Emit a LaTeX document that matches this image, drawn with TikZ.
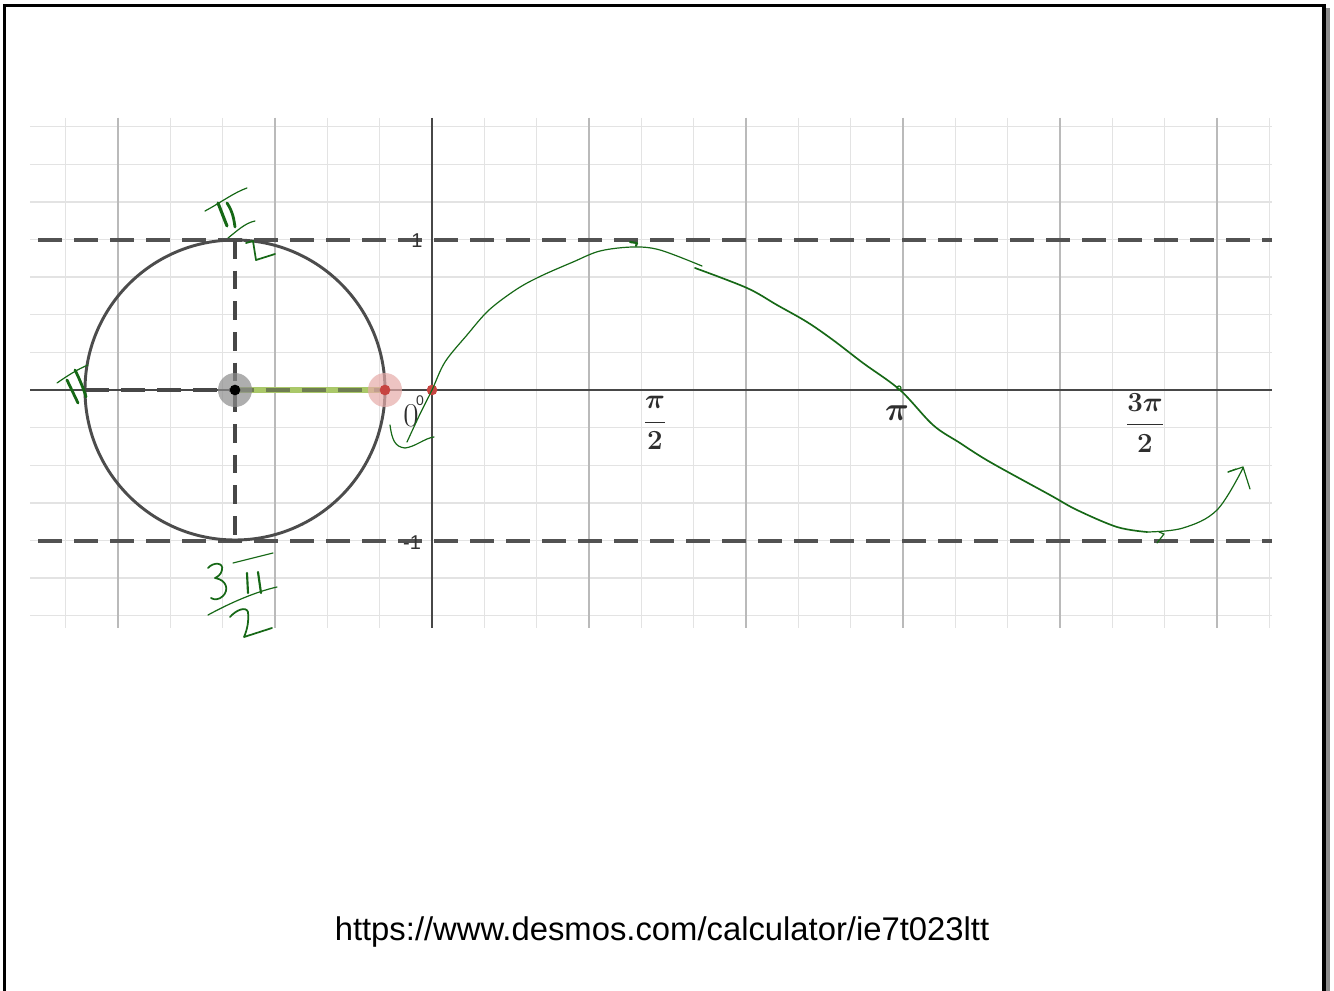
\documentclass[tikz,border=0pt]{standalone}
\usepackage{fontspec}
\usepackage{amsmath}
\newfontfamily\arial{Liberation Sans}
\definecolor{hgreen}{RGB}{22,104,22}
\definecolor{dred}{RGB}{199,68,64}
\definecolor{segg}{RGB}{170,200,105}
\begin{document}
\begin{tikzpicture}[x=0.75pt,y=-0.75pt,
  minor/.style={draw=black!11, line width=1.1pt},
  major/.style={draw=black!27, line width=1.1pt},
  axisline/.style={draw=black!72, line width=1.5pt},
  guide/.style={draw=black!68, line width=3pt, dash pattern=on 18pt off 9pt},
  vguide/.style={draw=black!72, line width=2.5pt, dash pattern=on 14pt off 9pt},
  hand/.style={draw=hgreen, line width=0.9pt, line cap=round, line join=round},
  handb/.style={draw=hgreen, line width=1.6pt, line cap=round, line join=round},
  tick/.style={text=black!80, inner sep=0pt},
  mathlab/.style={text=black!82, inner sep=0pt},
  urltext/.style={inner sep=0pt}]
\useasboundingbox (0,0) rectangle (1334,991);
\fill[white] (0,0) rectangle (1334,991);
% frame
\fill[black!45] (1325,8) rectangle (1330,991);
\draw[line width=2.3pt] (4.5,995) -- (4.5,5.5) -- (1324,5.5) -- (1324,995);
% grid
\foreach \i in {-7,...,16}{\draw[minor] ({432+\i*52.333},118) -- ({432+\i*52.333},628);}
\foreach \j in {-6,...,7}{\draw[minor] (30,{390-\j*37.625}) -- (1272,{390-\j*37.625});}
\foreach \i in {-6,-3,3,6,9,12,15}{\draw[major] ({432+\i*52.333},118) -- ({432+\i*52.333},628);}
% axes
\draw[axisline] (30,390) -- (1272,390);
\draw[axisline] (432,118) -- (432,628);
% dashed guides
\draw[guide] (38,240) -- (1272,240);
\draw[guide] (38,541) -- (1272,541);
\draw[vguide] (235,240) -- (235,541);
% circle
\node[circle, draw=black!70, line width=2.2pt, minimum size=225pt, inner sep=0pt] (circ) at (235,390) {};
% radius segment
\draw[segg, line width=5pt] (235,390) -- (385,390);
\draw[guide, draw=black!72, line width=2.6pt] (85,390) -- (235,390);
\draw[guide, draw=black!75, opacity=0.55, line width=2.5pt, dash phase=4pt] (235,390) -- (385,390);
% points
\fill[black!45, opacity=0.7] (235,390) circle[radius=17];
\node[circle, fill=black, inner sep=0pt, minimum size=8pt] (ctr) at (235,390) {};
\fill[dred!45, opacity=0.7] (385,390) circle[radius=17];
\node[circle, fill=dred, inner sep=0pt, minimum size=8pt] (pt) at (385,390) {};
\node[circle, fill=dred, inner sep=0pt, minimum size=8pt] (org) at (432,390) {};
% axis labels
\node[tick, font=\arial\fontsize{15}{18}\selectfont] (l1) at (417,241) {1};
\node[tick, font=\arial\fontsize{15}{18}\selectfont] (lm1) at (412,543) {-1};
\node[tick, font=\arial\fontsize{10.5}{12}\selectfont] (l0) at (420,401) {0};
\node[mathlab, font=\fontsize{25}{30}\selectfont] (big0) at (411,416) {0};
\node[mathlab, font=\fontsize{21}{25}\selectfont\boldmath] (lhalfpi) at (655,423) {$\dfrac{\pi}{2}$};
\node[mathlab, font=\fontsize{27}{32}\selectfont\boldmath] (lpi) at (897,413) {$\pi$};
\node[mathlab, font=\fontsize{21}{25}\selectfont\boldmath] (l3halfpi) at (1145,423) {$\dfrac{3\pi}{2}$};
% url
\node[urltext, font=\arial\fontsize{24.6}{29}\selectfont] (url) at (662,932) {https://www.desmos.com/calculator/ie7t023ltt};
% hand-drawn sine curve
\draw[hand] plot[smooth, tension=0.55] coordinates {(407,442) (420,414) (432,390) (445,362) (467,335) (489,310) (517,289) (541,276) (573,262) (600,251) (633,247) (660,250) (702,266)};
\draw[handb, line width=1.25pt] plot[smooth, tension=0.55] coordinates {(695,268) (747,288) (777,305) (807,322) (833,340) (863,363) (900,390) (933,425) (960,443) (990,462) (1050,495) (1077,510) (1117,527) (1147,532)};
\draw[hand] plot[smooth, tension=0.6] coordinates {(1147,532) (1183,528) (1217,510) (1243,468)};
\draw[hand] (1228,472) -- (1243,467) -- (1250,489);
\draw[hand] (1228,472) -- (1236,469);
\draw[hand] (1157,543) -- (1164,534) -- (1159,532);
\draw[handb] (630,242) -- (637,243) -- (636,246);
\draw[hand] (899,388) circle[radius=2];
% origin mark
\draw[hand] (390,425) .. controls (392,440) and (395,447) .. (405,448) .. controls (415,447) and (425,438) .. (434,437);
% pi/2 label (top)
\draw[hand] (205,211) .. controls (220,203) and (235,192) .. (247,188);
\draw[handb, line width=2.3pt] (218,203) -- (227,226);
\draw[handb, line width=2.1pt] (227,203) .. controls (233,212) and (234,220) .. (235,227);
\draw[hand] (228,238) .. controls (237,231) and (245,223) .. (255,221);
\draw[handb, line width=1.3pt] (246,243) -- (253,241) -- (256,260) -- (275,254);
% pi label (left)
\draw[hand] (57,383) .. controls (67,376) and (78,369) .. (88,365);
\draw[handb, line width=2.1pt] (67,380) -- (78,403);
\draw[handb, line width=2.1pt] (75,370) .. controls (80,380) and (84,390) .. (86,397);
% 3pi/2 label (bottom)
\draw[handb, line width=1.3pt] (208,568) .. controls (213,562) and (224,562) .. (222,570) .. controls (221,575) and (217,577) .. (215,578) .. controls (227,580) and (229,590) .. (223,596) .. controls (219,600) and (214,600) .. (211,598);
\draw[hand] (233,563) -- (273,553);
\draw[handb, line width=1.6pt] (247,573) -- (248,593);
\draw[handb, line width=1.6pt] (258,572) -- (261,593);
\draw[hand] (208,615) .. controls (230,603) and (255,592) .. (277,587);
\draw[handb, line width=1.3pt] (230,617) .. controls (236,610) and (246,606) .. (248,612) .. controls (249,622) and (247,630) .. (244,637) -- (272,628);
\end{tikzpicture}
\end{document}
